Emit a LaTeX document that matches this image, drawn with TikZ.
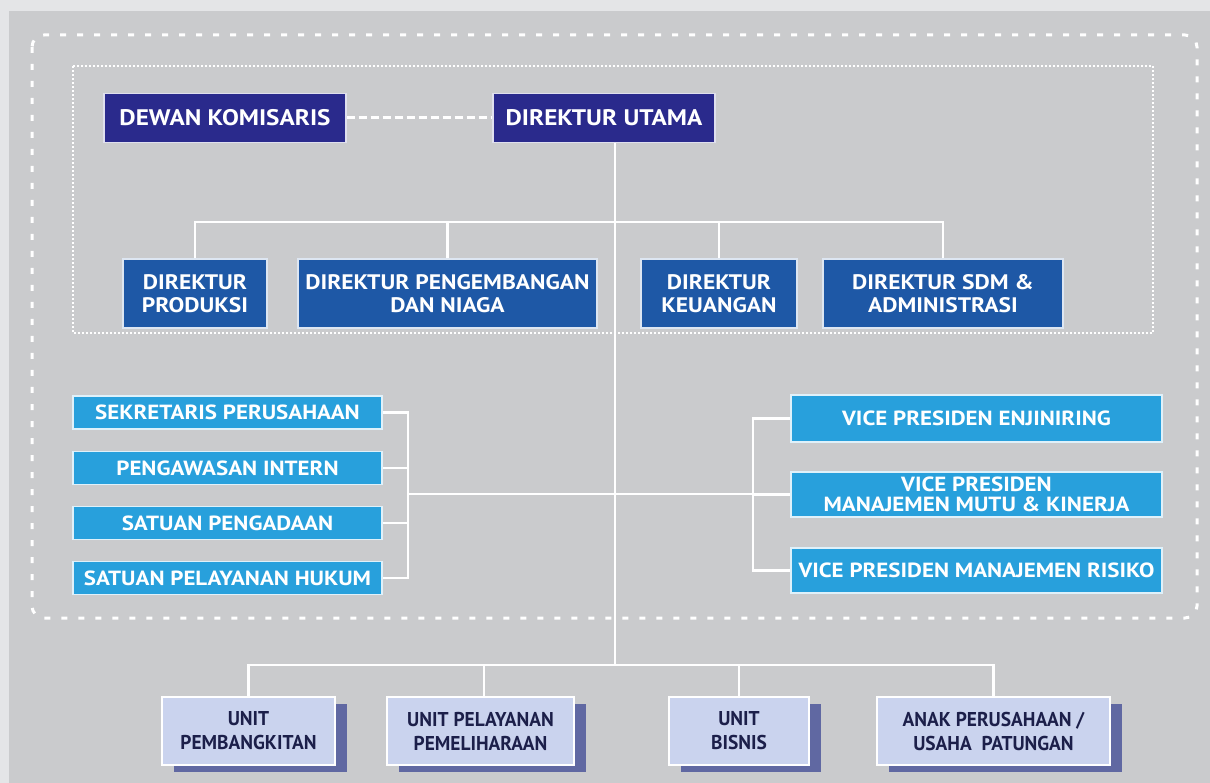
\documentclass[tikz,border=0pt]{standalone}
\usepackage{fontspec}
\setmainfont[FakeStretch=1.12]{PT Sans}
\newfontfamily\unitfont[FakeStretch=0.97]{PT Sans}
\definecolor{outerbg}{RGB}{228,229,231}
\definecolor{panelbg}{RGB}{202,203,205}
\definecolor{darkbox}{RGB}{42,42,140}
\definecolor{dirbox}{RGB}{30,88,166}
\definecolor{staffbox}{RGB}{40,160,220}
\definecolor{unitbox}{RGB}{202,211,238}
\definecolor{unitshadow}{RGB}{96,104,162}
\definecolor{unittext}{RGB}{28,31,74}
\tikzset{
  topbox/.style={draw=white!85!darkbox, line width=1.2pt, fill=darkbox, text=white, inner sep=0pt,
    font=\bfseries\fontsize{22.5}{24}\selectfont, minimum height=49pt},
  dirnode/.style={draw=white!85!dirbox, line width=1.2pt, fill=dirbox, text=white, inner sep=0pt, align=center,
    font=\bfseries\fontsize{21}{23}\selectfont, minimum height=69pt},
  staffnode/.style={draw=white!85!staffbox, line width=1.2pt, fill=staffbox, text=white, inner sep=0pt, align=center,
    font=\bfseries\fontsize{20.5}{20}\selectfont},
  unitnode/.style={draw=white, line width=1.8pt, fill=unitbox, text=unittext, inner sep=0pt, align=center,
    font=\unitfont\bfseries\fontsize{20}{24}\selectfont, minimum height=68pt},
  conn/.style={draw=white, line width=2.4pt},
}
\begin{document}
\begin{tikzpicture}[x=1pt,y=-1pt]
\useasboundingbox (0,0) rectangle (1210,783);
\fill[outerbg] (0,0) rectangle (1210,783);
\fill[panelbg] (9,11) rectangle (1210,783);
% frames
\draw[white, line width=3pt, dash pattern=on 6pt off 11pt, rounded corners=12pt] (32,35) rectangle (1197,618);
\draw[white, line width=2pt, dash pattern=on 1.6pt off 2.4pt] (73,66) rectangle (1153,333);

% top
\node[topbox, minimum width=242pt] (dewan) at (225,118) {DEWAN KOMISARIS};
\node[topbox, minimum width=222pt] (utama) at (604,118) {DIREKTUR UTAMA};
\draw[white, line width=3pt, dash pattern=on 8pt off 4pt] (dewan.east) -- (utama.west);

% directors
\node[dirnode, minimum width=144pt] (prod) at (195,293.5) {DIREKTUR\\PRODUKSI};
\node[dirnode, minimum width=299pt] (peng) at (447.5,293.5) {DIREKTUR PENGEMBANGAN\\DAN NIAGA};
\node[dirnode, minimum width=156pt] (keu) at (719,293.5) {DIREKTUR\\KEUANGAN};
\node[dirnode, minimum width=240pt] (sdm) at (943,293.5) {DIREKTUR SDM \&\\ADMINISTRASI};

% staff left
\node[staffnode, minimum width=309pt, minimum height=33pt] (sek) at (227.5,412.5) {SEKRETARIS PERUSAHAAN};
\node[staffnode, minimum width=309pt, minimum height=33pt] (pint) at (227.5,468) {PENGAWASAN INTERN};
\node[staffnode, minimum width=309pt, minimum height=33pt] (spg) at (227.5,523) {SATUAN PENGADAAN};
\node[staffnode, minimum width=309pt, minimum height=33pt] (hukum) at (227.5,578) {SATUAN PELAYANAN HUKUM};

% staff right
\node[staffnode, minimum width=371pt, minimum height=47pt] (enj) at (976.5,418.5) {VICE PRESIDEN ENJINIRING};
\node[staffnode, minimum width=371pt, minimum height=45pt] (mutu) at (976.5,494.5) {VICE PRESIDEN\\MANAJEMEN MUTU \& KINERJA};
\node[staffnode, minimum width=371pt, minimum height=45pt] (risiko) at (976.5,570.5) {VICE PRESIDEN MANAJEMEN RISIKO};

% units with shadows
\foreach \cx/\w in {248.5/173, 480.5/187, 739/140, 993.5/233}{
  \fill[unitshadow] (\cx-\w/2+12,697+7) rectangle (\cx+\w/2+12,765+7);
}
\node[unitnode, minimum width=173pt] (pem) at (248.5,731) {UNIT\\PEMBANGKITAN};
\node[unitnode, minimum width=187pt] (pel) at (480.5,731) {UNIT PELAYANAN\\PEMELIHARAAN};
\node[unitnode, minimum width=140pt] (bis) at (739,731) {UNIT\\BISNIS};
\node[unitnode, minimum width=233pt] (anak) at (993.5,731) {ANAK PERUSAHAAN /\\USAHA\ \ PATUNGAN};

% coordinates
\coordinate (top) at ([xshift=11pt]utama.south);
\coordinate (dirbar) at (615,222);
\coordinate (staffbar) at (615,494);
\coordinate (unitbar) at (615,665);
\coordinate (lb) at (408,494);
\coordinate (rb) at (753,494);

% connectors
\draw[conn] (top) -- (unitbar);
\draw[conn] (prod.north) -- (prod.north |- dirbar) -- (sdm.north |- dirbar) -- (sdm.north);
\draw[conn] (peng.north) -- (peng.north |- dirbar);
\draw[conn] (keu.north) -- (keu.north |- dirbar);

\draw[conn] (lb) -- (rb);
\draw[conn] (sek.east) -- (sek.east -| lb) -- (hukum.east -| lb) -- (hukum.east);
\draw[conn] (pint.east) -- (pint.east -| lb);
\draw[conn] (spg.east) -- (spg.east -| lb);

\draw[conn] (enj.west) -- (enj.west -| rb) -- (risiko.west -| rb) -- (risiko.west);
\draw[conn] (mutu.west) -- (mutu.west -| rb);

\draw[conn] (pem.north) -- (pem.north |- unitbar) -- (anak.north |- unitbar) -- (anak.north);
\draw[conn] ([xshift=3.5pt]pel.north) -- ([xshift=3.5pt]pel.north |- unitbar);
\draw[conn] (bis.north) -- (bis.north |- unitbar);
\end{tikzpicture}
\end{document}
